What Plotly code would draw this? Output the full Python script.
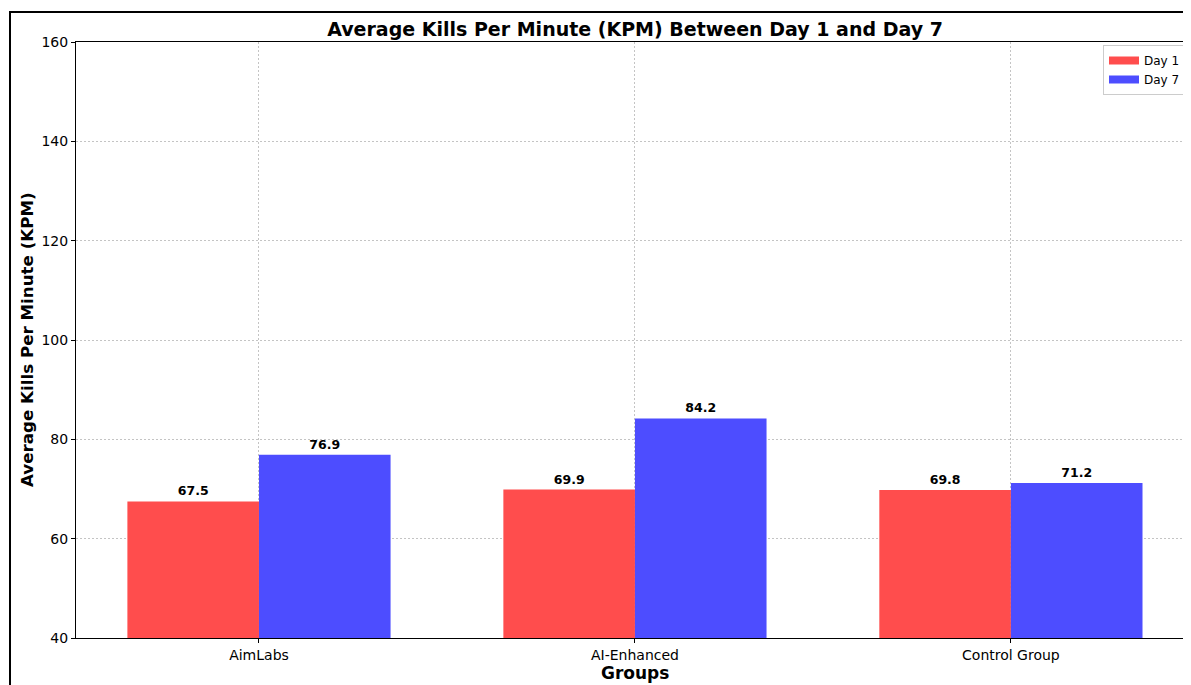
import plotly.graph_objects as go

groups = ["AimLabs", "AI-Enhanced", "Control Group"]
day1 = [67.5, 69.9, 69.8]
day7 = [76.9, 84.2, 71.2]
series_names = ["Day 1", "Day 7"]
series_colors = ["rgb(255,77,77)", "rgb(77,77,255)"]
y_ticks = [40, 60, 80, 100, 120, 140, 160]

# page body has an 8px margin; figure sized/offset to compensate
OFF = 8
W, H = 1183, 677
L, R, T, B = 76 - OFF, 0, 42 - OFF, H - (638 - OFF)
bw = 0.35
idx = list(range(len(groups)))

font = "DejaVu Sans"
fig = go.Figure()
for k, (vals, sgn) in enumerate(((day1, -1), (day7, 1))):
    fig.add_trace(go.Bar(x=[i + sgn * bw / 2 for i in idx], y=vals, width=bw,
                         name=series_names[k], showlegend=False,
                         marker=dict(color=series_colors[k], line=dict(width=0)),
                         text=[f"{v:.1f}" for v in vals], textposition="outside",
                         textfont=dict(family=font, size=12.5, color="black", weight="bold"),
                         cliponaxis=False, base=0))
for k in range(2):
    fig.add_trace(go.Scatter(x=[None], y=[None], mode="lines", name=series_names[k],
                             line=dict(color=series_colors[k], width=8)))

pw = W - L - R
ph = H - T - B

def px_x(p):  # screen px -> paper
    return (p - OFF - L) / pw

def px_y(p):
    return (H - B - (p - OFF)) / ph

fig.add_shape(type="rect", xref="paper", yref="paper",
              x0=px_x(10), x1=px_x(3000), y0=px_y(3000), y1=px_y(12),
              line=dict(color="black", width=2), fillcolor="rgba(0,0,0,0)", layer="above")

# axis titles as annotations
fig.add_annotation(text="<b>Groups</b>", xref="paper", yref="paper",
                   x=px_x(635), y=px_y(673), xanchor="center", yanchor="middle",
                   showarrow=False, font=dict(size=17, family=font, color="black"))
fig.add_annotation(text="<b>Average Kills Per Minute (KPM)</b>", xref="paper", yref="paper",
                   x=px_x(27), y=px_y(340), xanchor="center", yanchor="middle", textangle=-90,
                   showarrow=False, font=dict(size=16.7, family=font, color="black"))

fig.update_layout(
    width=W, height=H,
    margin=dict(l=L, r=R, t=T, b=B, pad=0, autoexpand=False),
    paper_bgcolor="white", plot_bgcolor="white",
    font=dict(family=font, color="black", size=14),
    barmode="overlay",
    title=dict(text="<b>Average Kills Per Minute (KPM) Between Day 1 and Day 7</b>",
               x=px_x(635), xref="paper", xanchor="center",
               y=1 - (29 - OFF) / H, yref="container", yanchor="middle",
               font=dict(size=19, family=font, color="black")),
    showlegend=True,
    legend=dict(x=px_x(1186), y=px_y(45), xanchor="right", yanchor="top",
                bgcolor="white", bordercolor="#cccccc", borderwidth=1,
                font=dict(size=12, family=font),
                tracegroupgap=0),
    uniformtext=dict(minsize=8, mode="show"),
)
fig.update_xaxes(range=[-0.4867, 2.479], tickvals=idx, ticktext=groups,
                 showline=True, linecolor="black", linewidth=1, mirror=True,
                 ticks="outside", ticklen=4, tickcolor="black", automargin=False,
                 showgrid=True, gridcolor="#c4c4c4", griddash="2px,2px", gridwidth=0.8,
                 tickfont=dict(size=14), layer="above traces", zeroline=False)
fig.update_yaxes(range=[40, 160], tickvals=y_ticks,
                 showline=True, linecolor="black", linewidth=1, mirror=False,
                 ticks="outside", ticklen=4, tickcolor="black", automargin=False,
                 showgrid=True, gridcolor="#c4c4c4", griddash="2px,2px", gridwidth=0.8,
                 tickfont=dict(size=14), layer="above traces", zeroline=False)

fig.write_html("out.html")
